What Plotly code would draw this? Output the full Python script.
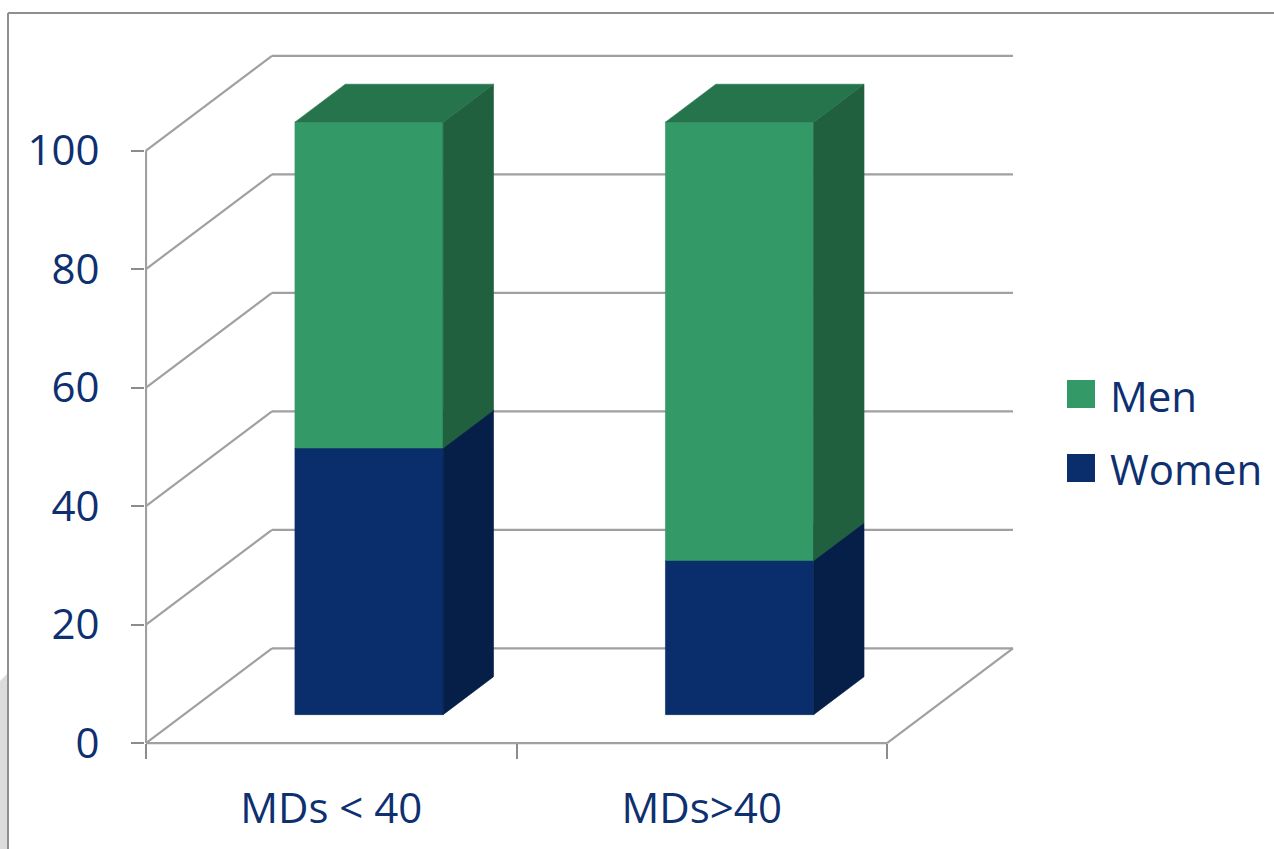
import plotly.graph_objects as go

# ---------------- data ----------------
categories = ["MDs < 40", "MDs>40"]
women = [45, 26]
men = [55, 74]
y_ticks = [0, 20, 40, 60, 80, 100]

# ---------------- style ----------------
FONT = "Open Sans"
TXT = "#0E3070"
GREEN = dict(front="#339966", top="#26744C", side="#21603F")
NAVY = dict(front="#0A2D6C", top="#082459", side="#061F48")
GRID = "#A0A0A0"
TICKC = "#8C8C8C"
FS = 42

DX, DY = 0.34, 16.0   # oblique depth vector (x units, value units)
F0, F1 = 0.3, 0.7     # bar front/back depth fractions
HALF = 0.2            # half bar width in category units (gap width 150%)

# plot geometry (pixels)
WIDTH, HEIGHT = 1274, 849
L, R, T, B = 145, 254, 40, 100
PW, PH = WIDTH - L - R, HEIGHT - T - B
PX_PER_X = 370.5
PX_PER_Y = 5.925
XMIN = -1 / PX_PER_X
XMAX = XMIN + PW / PX_PER_X
YMIN = -1.0
YMAX = YMIN + PH / PX_PER_Y
POS0 = (0 - YMIN) / (YMAX - YMIN)


def pxx(px):
    return (px - L) / PW


def pxy(py):
    return (HEIGHT - B - py) / PH


def poly(pts):
    xs = [p[0] for p in pts] + [pts[0][0]]
    ys = [p[1] for p in pts] + [pts[0][1]]
    return xs, ys


fig = go.Figure()

# ---------- walls / grid ----------
gx, gy = [], []
ncat = len(categories)
for v in y_ticks:
    gx += [0, DX, None]
    gy += [v, v + DY, None]
    gx += [DX, ncat + DX, None]
    gy += [v + DY, v + DY, None]
gx += [ncat, ncat + DX, None]
gy += [0, DY, None]
gx += [0, ncat, None]
gy += [0, 0, None]
gx += [0, 0, None]
gy += [0, max(y_ticks), None]
fig.add_trace(go.Scatter(x=gx, y=gy, mode="lines",
                         line=dict(color=GRID, width=2.2),
                         hoverinfo="skip", showlegend=False))

# ---------- bars ----------
for i, cat in enumerate(categories):
    c = i + 0.5
    x0, x1 = c - HALF, c + HALF
    base = 0
    for name, vals, col in (("Women", women, NAVY), ("Men", men, GREEN)):
        lo, hi = base, base + vals[i]
        base = hi
        faces = [
            ("front", [(x0 + F0 * DX, lo + F0 * DY), (x1 + F0 * DX, lo + F0 * DY),
                       (x1 + F0 * DX, hi + F0 * DY), (x0 + F0 * DX, hi + F0 * DY)]),
            ("side", [(x1 + F0 * DX, lo + F0 * DY), (x1 + F1 * DX, lo + F1 * DY),
                      (x1 + F1 * DX, hi + F1 * DY), (x1 + F0 * DX, hi + F0 * DY)]),
            ("top", [(x0 + F0 * DX, hi + F0 * DY), (x1 + F0 * DX, hi + F0 * DY),
                     (x1 + F1 * DX, hi + F1 * DY), (x0 + F1 * DX, hi + F1 * DY)]),
        ]
        for fname, pts in faces:
            xs, ys = poly(pts)
            fig.add_trace(go.Scatter(x=xs, y=ys, mode="lines", fill="toself",
                                     fillcolor=col[fname],
                                     line=dict(color=col[fname], width=0.6),
                                     name=name, hoverinfo="skip",
                                     showlegend=False))

# dummy trace to register the boundary-tick axis
fig.add_trace(go.Scatter(x=[], y=[], xaxis="x2", yaxis="y", showlegend=False))

# ---------- frame & legend (decorations) ----------
shapes = [
    dict(type="path", xref="paper", yref="paper",
         path=f"M{pxx(0)},{pxy(681)} L{pxx(8)},{pxy(673)} L{pxx(8)},{pxy(849)} L{pxx(0)},{pxy(849)} Z",
         fillcolor="#DCDCDC", line=dict(width=0), layer="below"),
    dict(type="line", xref="paper", yref="paper",
         x0=pxx(8), x1=pxx(1274), y0=pxy(13), y1=pxy(13),
         line=dict(color="#8F8F8F", width=2)),
    dict(type="line", xref="paper", yref="paper",
         x0=pxx(8), x1=pxx(8), y0=pxy(13), y1=pxy(849),
         line=dict(color="#8F8F8F", width=2)),
]
annotations = []
legend_items = [("Men", GREEN["front"], 394), ("Women", NAVY["front"], 468)]
for name, colr, cy in legend_items:
    shapes.append(dict(type="rect", xref="paper", yref="paper",
                       x0=pxx(1067), x1=pxx(1095), y0=pxy(cy - 14), y1=pxy(cy + 14),
                       fillcolor=colr, line=dict(width=0)))
    annotations.append(dict(text=name, xref="paper", yref="paper",
                            x=pxx(1108), y=pxy(cy + 1), xanchor="left", yanchor="middle",
                            showarrow=False, font=dict(family=FONT, size=FS, color=TXT)))

fig.update_layout(
    width=WIDTH, height=HEIGHT,
    margin=dict(l=L, r=R, t=T, b=B, pad=0, autoexpand=False),
    paper_bgcolor="white", plot_bgcolor="rgba(0,0,0,0)",
    showlegend=False,
    font=dict(family=FONT, size=FS, color=TXT),
    xaxis=dict(range=[XMIN, XMAX], anchor="free", position=POS0, automargin=False,
               tickmode="array", tickvals=[k + 0.5 for k in range(ncat)],
               ticktext=categories, ticks="", showgrid=False, zeroline=False,
               showline=False, tickfont=dict(family=FONT, size=FS, color=TXT),
               ticklabelstandoff=37),
    xaxis2=dict(range=[XMIN, XMAX], overlaying="x", anchor="free", position=POS0,
                automargin=False,
                tickmode="array", tickvals=list(range(ncat + 1)),
                ticks="outside", ticklen=15, tickwidth=2, tickcolor=TICKC,
                showticklabels=False, showgrid=False, zeroline=False, showline=False),
    yaxis=dict(range=[YMIN, YMAX], tickmode="array", tickvals=y_ticks, automargin=False,
               ticks="outside", ticklen=13, tickwidth=2, tickcolor=TICKC,
               showgrid=False, zeroline=False, showline=False,
               tickfont=dict(family=FONT, size=FS, color=TXT),
               ticklabelstandoff=23),
    shapes=shapes,
    annotations=annotations,
)

fig.write_html("out.html")
